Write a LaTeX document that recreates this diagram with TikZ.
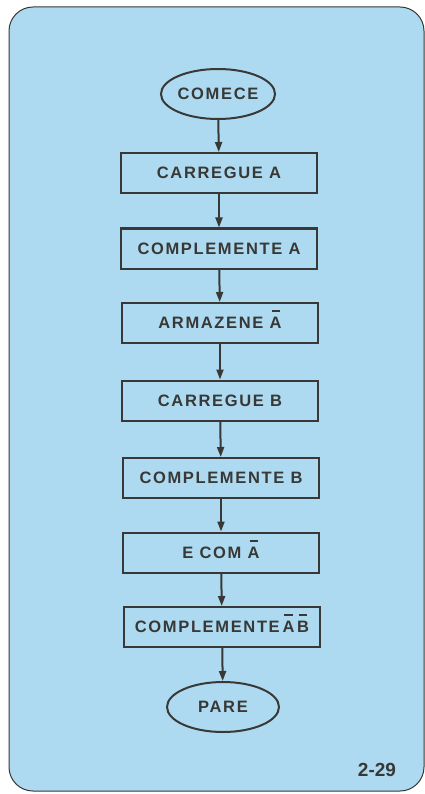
\documentclass[tikz,border=0pt]{standalone}
\usepackage{fontspec}
\setmainfont{Liberation Sans}
\newfontfamily\lettering[LetterSpace=10]{Liberation Sans Bold}
\newfontfamily\figfont{Liberation Sans Bold}
\usetikzlibrary{shapes.geometric,arrows.meta}
\definecolor{panelblue}{HTML}{ADDAF0}
\definecolor{ink}{HTML}{383836}
\newcommand\obar[1]{\ooalign{\hfil\smash{\raisebox{1.0em}{\rule{0.5em}{1.7pt}}}\hfil\cr #1}}
\tikzset{
  every node/.style={text=ink},
  stepbox/.style={draw=ink, line width=2pt, minimum width=196pt, minimum height=40pt, inner sep=0pt, font=\lettering\fontsize{16.5}{19}\selectfont},
  term/.style={draw=ink, line width=2pt, ellipse, minimum width=112pt, minimum height=50pt, inner sep=0pt, font=\lettering\fontsize{16.5}{19}\selectfont},
  flow/.style={draw=ink, line width=2pt, -{Triangle[length=10pt,width=7pt]}}
}
\begin{document}
\begin{tikzpicture}[x=1pt,y=-1pt]
\useasboundingbox (0,0) rectangle (425,794);
\fill[white] (0,0) rectangle (425,794);
\draw[ink, line width=1pt, fill=panelblue, rounded corners=24pt] (9,7) rectangle (424,791);
\node[term] (start) at (218,94) {COMECE};
\node[stepbox] (s1) at (219,173) {CARREGUE A};
\node[stepbox] (s2) at (219,248.5) {COMPLEMENTE A};
\node[stepbox] (s3) at (220,323) {ARMAZENE \obar{A}};
\node[stepbox] (s4) at (220,400.5) {CARREGUE B};
\node[stepbox] (s5) at (221,478) {COMPLEMENTE B};
\node[stepbox] (s6) at (221,552.5) {E COM \obar{A}};
\node[stepbox] (s7) at (222,627) {COMPLEMENTE\,\obar{A}\,\obar{B}};
\node[term] (stop) at (223,707) {PARE};
\draw[flow] (start) -- (s1);
\draw[flow] (s1) -- (s2);
\draw[flow] (s2) -- (s3);
\draw[flow] (s3) -- (s4);
\draw[flow] (s4) -- (s5);
\draw[flow] (s5) -- (s6);
\draw[flow] (s6) -- (s7);
\draw[flow] (s7) -- (stop);
\node[font=\figfont\fontsize{19}{22}\selectfont] (fig) at (377,770) {2-29};
\end{tikzpicture}
\end{document}
